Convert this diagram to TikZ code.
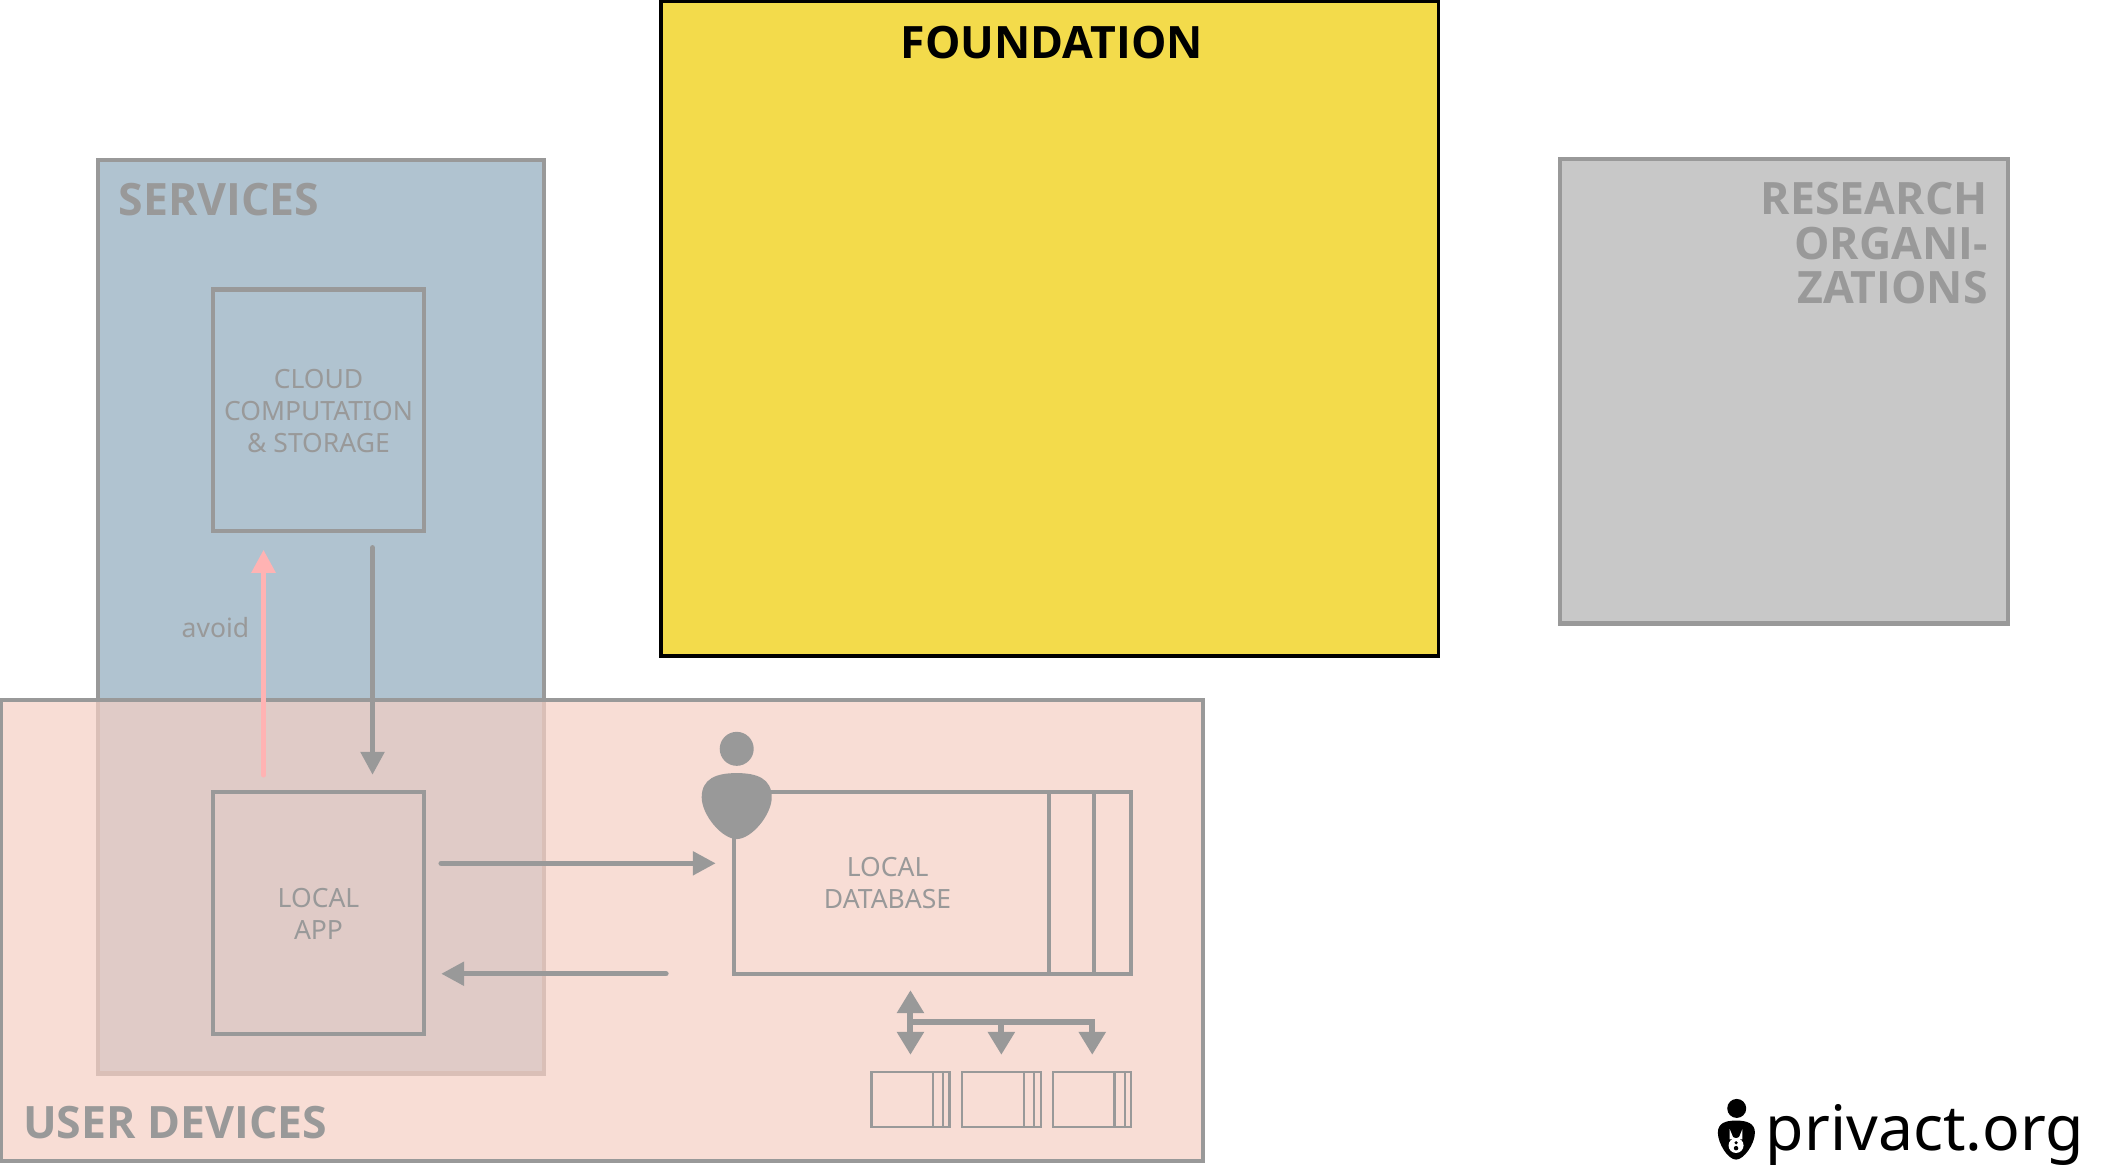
\documentclass[tikz,border=0pt]{standalone}
\usepackage{fontspec}
\setmainfont{Noto Sans}
\newfontfamily\headfont{Open Sans}
\usetikzlibrary{arrows.meta,fit,calc}
\definecolor{strokegray}{HTML}{999999}
\definecolor{bluefill}{HTML}{B0C3D0}
\definecolor{pinkfill}{HTML}{F5CFC4}
\definecolor{yellowfill}{HTML}{F3DB4B}
\definecolor{greyfill}{HTML}{C8C8C8}
\definecolor{avoidpink}{HTML}{FFB3B3}
\tikzset{
  x=1.3468pt,y=-1.3468pt,
  frame/.style={draw=strokegray,line width=4.2pt,inner sep=0pt,line join=miter},
  inner box/.style={draw=strokegray,line width=4.2pt,inner sep=0pt},
  label text/.style={text=strokegray,align=center,inner sep=0pt,font=\fontsize{26.5}{32}\selectfont},
  small box/.style={draw=strokegray,line width=2.2pt,inner sep=0pt},
  heading/.style={text=strokegray,font=\fontsize{44.6}{44.8}\selectfont\headfont\bfseries,inner sep=0pt},
  flow/.style={draw=strokegray,line width=5.4pt,line cap=round,-{Triangle[length=23pt,width=23pt]}},
  twoway/.style={draw=strokegray,line width=6pt,{Triangle[length=23pt,width=26pt]}-{Triangle[length=23pt,width=26pt]}},
  branch/.style={draw=strokegray,line width=6pt,-{Triangle[length=23pt,width=26pt]}},
}
\begin{document}
\begin{tikzpicture}
\useasboundingbox (0,0) rectangle (1567.4,865);
% services
\node[frame,fill=bluefill,fit={(73,119)(404,797)}] (services) {};
\node[heading,anchor=west] (servicesT) at (88,148.5) {SERVICES};
\node[inner box,fit={(158,215)(315,394)}] (cloud) {};
\node[label text] (cloudT) at (236.5,305) {CLOUD\\COMPUTATION\\\&\ STORAGE};
% user devices
\node[inner sep=0pt,fill=pinkfill,fill opacity=0.71,fit={(1,520)(893,862)}] (userfill) {};
\node[frame,fit={(1,520)(893,862)}] (user) {};
\node[heading,anchor=west] (userT) at (17,833.5) {USER DEVICES};
% foundation
\node[draw=black,line width=3.8pt,fill=yellowfill,inner sep=0pt,fit={(491,1)(1068,487)}] (foundation) {};
\node[font=\fontsize{44.6}{44.8}\selectfont\headfont\bfseries,inner sep=0pt] (foundationT) at (781,31.5) {FOUNDATION};
% research
\node[frame,fill=greyfill,fit={(1158,118)(1491,463)}] (research) {};
\node[heading,align=right,anchor=north east] (researchT) at (1476,135) {RESEARCH\\ORGANI-\\ZATIONS};
% local app
\node[inner box,fit={(158,588)(315,768)}] (app) {};
\node[label text] (appT) at (236.5,678.5) {LOCAL\\APP};
% database
\node[inner box,fit={(545,588)(840,723)}] (db) {};
\node[inner box,fit={(779,588)(812,723)}] (dbcol) {};
\node[label text] (dbT) at (659,656) {LOCAL\\DATABASE};
% person
\node[fill=strokegray,circle,inner sep=0pt,minimum size=34pt] (head) at (547,556) {};
\fill[strokegray] (547,574) .. controls (562,574) and (573,578) .. (573,592) .. controls (573,605) and (558,623) .. (547,623) .. controls (536,623) and (521,605) .. (521,592) .. controls (521,578) and (532,574) .. (547,574) -- cycle;
% small databases
\foreach \n/\l/\r in {a/647/705,b/714/773,c/782/840}{
  \node[small box,fit={(\l,796)(\r,837)}] (small\n) {};
  \node[small box,fit={({\r-12.5},796)({\r-5},837)}] (small\n col) {};
}
% connectors
\draw[flow] ([xshift=54pt,yshift=-15pt]cloud.south) -- ([xshift=54pt,yshift=15pt]app.north);
\draw[flow,draw=avoidpink] ([xshift=-55pt,yshift=15pt]app.north) -- ([xshift=-55pt,yshift=-17pt]cloud.south);
\node[label text] (avoidT) at (160,466) {avoid};
\coordinate (appout) at ($(app.east)+(11,-37)$);
\coordinate (dbin) at ($(db.west)+(-12,-15)$);
\draw[flow] (appout) -- (appout -| dbin);
\coordinate (dbout) at ($(db.west)+(-49,67.5)$);
\coordinate (appin) at ($(app.east)+(11,45)$);
\draw[flow] (dbout) -- (dbout -| appin);
\draw[twoway] ($(smalla.north)+(0,-60)$) -- ($(smalla.north)+(0,-12)$);
\coordinate (bus) at ($(smalla.north)+(0,-36.5)$);
\draw[branch] (bus) -| ($(smallc.north)+(0,-12)$);
\draw[branch] (bus -| smallb.north) -- ($(smallb.north)+(0,-12)$);
% logo
\node[fill=black,circle,inner sep=0pt,minimum size=19pt] (logohead) at (1289.5,823) {};
\fill[black] (1289,832) .. controls (1297,832) and (1303,834) .. (1303,841) .. controls (1303,849) and (1295,861) .. (1289,861) .. controls (1283,861) and (1275.5,849) .. (1275.5,841) .. controls (1275.5,834) and (1281,832) .. (1289,832) -- cycle;
\draw[white,line width=2pt] (1285,846) -- (1285,842) arc[start angle=180,end angle=0,x radius=4,y radius=4] -- (1293,846);
\node[fill=white,circle,inner sep=0pt,minimum size=15pt] (lockbody) at (1289,850.5) {};
\node[fill=black,circle,inner sep=0pt,minimum size=3.5pt] (keya) at (1289,848.5) {};
\node[fill=black,circle,inner sep=0pt,minimum size=4.5pt] (keyb) at (1289,852.5) {};
\node[anchor=base west,font=\fontsize{62.5}{62.5}\selectfont,inner sep=0pt] (logotext) at (1311,854) {privact.org};
\end{tikzpicture}
\end{document}
